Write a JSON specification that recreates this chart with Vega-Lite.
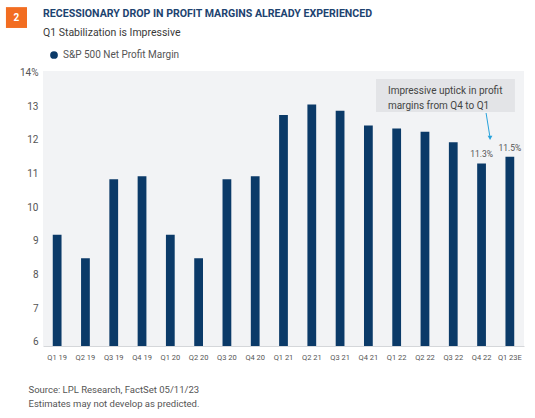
{
  "$schema": "https://vega.github.io/schema/vega-lite/v6.json",
  "width": 481,
  "height": 275,
  "autosize": {"type": "none"},
  "padding": {"left": 43, "top": 71, "right": 11, "bottom": 72},
  "background": "white",
  "config": {
    "view": {"fill": "#f2f3f5", "stroke": null},
    "font": "Roboto",
    "legend": {"orient": "none", "legendX": 6, "legendY": -21}
  },
  "title": {
    "text": "RECESSIONARY DROP IN PROFIT MARGINS ALREADY EXPERIENCED",
    "subtitle": "Q1 Stabilization is Impressive",
    "anchor": "start",
    "frame": "group",
    "font": "Roboto",
    "fontSize": 10.6,
    "fontWeight": "bold",
    "color": "#1d4370",
    "subtitleFont": "Roboto",
    "subtitleFontSize": 10.5,
    "subtitleColor": "#3a3a3a",
    "subtitlePadding": 8.5,
    "offset": -31
  },
  "data": {
    "values": [
      {"q": "Q1 19", "v": 9.18, "label": ""},
      {"q": "Q2 19", "v": 8.48, "label": ""},
      {"q": "Q3 19", "v": 10.83, "label": ""},
      {"q": "Q4 19", "v": 10.92, "label": ""},
      {"q": "Q1 20", "v": 9.18, "label": ""},
      {"q": "Q2 20", "v": 8.48, "label": ""},
      {"q": "Q3 20", "v": 10.83, "label": ""},
      {"q": "Q4 20", "v": 10.92, "label": ""},
      {"q": "Q1 21", "v": 12.74, "label": ""},
      {"q": "Q2 21", "v": 13.05, "label": ""},
      {"q": "Q3 21", "v": 12.87, "label": ""},
      {"q": "Q4 21", "v": 12.43, "label": ""},
      {"q": "Q1 22", "v": 12.34, "label": ""},
      {"q": "Q2 22", "v": 12.24, "label": ""},
      {"q": "Q3 22", "v": 11.93, "label": ""},
      {"q": "Q4 22", "v": 11.3, "label": "11.3%"},
      {"q": "Q1 23E", "v": 11.5, "label": "11.5%"}
    ]
  },
  "resolve": {"scale": {"x": "independent", "y": "independent"}},
  "layer": [
    {
      "layer": [
        {
          "mark": {"type": "bar"},
          "encoding": {
            "x": {
              "field": "q", "type": "nominal", "sort": null,
              "scale": {"paddingInner": 0.69, "paddingOuter": 0.345},
              "axis": {
                "labelAngle": 0, "ticks": false, "domainColor": "#d5d7da",
                "labelFontSize": 7.5, "labelColor": "#555555", "labelPadding": 7,
                "title": ["Source: LPL Research, FactSet  05/11/23", "Estimates may not develop as predicted."],
                "titleX": -15, "titleY": 38, "titleAlign": "left", "titleBaseline": "top",
                "titleFontWeight": "normal", "titleFontSize": 9.5, "titleColor": "#555555",
                "titleLineHeight": 14
              }
            },
            "y": {
              "field": "v", "type": "quantitative",
              "scale": {"domain": [5.87, 14.05], "nice": false, "zero": false},
              "axis": {
                "values": [6, 7, 8, 9, 10, 11, 12, 13, 14],
                "tickCount": 9,
                "labelExpr": "datum.value == 14 ? '14%' : datum.label",
                "labelOverlap": false,
                "labelSeparation": 0,
                "labelBound": false,
                "grid": false, "domain": false, "ticks": false,
                "labelPadding": 5, "labelFontSize": 10, "labelColor": "#555555",
                "title": null
              }
            },
            "y2": {"datum": 5.87},
            "color": {
              "datum": "S&P 500 Net Profit Margin",
              "scale": {"range": ["#0b3a68"]},
              "legend": {
                "title": null, "symbolType": "circle", "symbolSize": 60,
                "labelFontSize": 10, "labelColor": "#555555", "padding": 0,
                "symbolStrokeWidth": 0, "labelOffset": 4
              }
            }
          }
        },
        {
          "transform": [{"filter": "datum.label != ''"}],
          "mark": {"type": "text", "dy": -9, "fontSize": 8.5, "color": "#555555", "baseline": "middle"},
          "encoding": {
            "x": {"field": "q", "type": "nominal", "sort": null},
            "y": {"field": "v", "type": "quantitative"},
            "text": {"field": "label"}
          }
        }
      ]
    },
    {
      "data": {"values": [{}]},
      "mark": {"type": "rect", "color": "#e3e4e7"},
      "encoding": {
        "x": {"datum": 11.77, "type": "quantitative", "scale": {"domain": [0, 17], "nice": false, "zero": false}, "axis": null},
        "x2": {"datum": 16.68},
        "y": {"datum": 13.81, "type": "quantitative", "scale": {"domain": [5.87, 14.05], "nice": false, "zero": false}, "axis": null},
        "y2": {"datum": 12.83}
      }
    },
    {
      "data": {"values": [{}]},
      "mark": {"type": "text", "align": "left", "baseline": "middle", "fontSize": 10, "color": "#444444", "lineHeight": 14.4,
        "text": ["Impressive uptick in profit", "margins from Q4 to Q1"]},
      "encoding": {
        "x": {"datum": 12.19, "type": "quantitative", "scale": {"domain": [0, 17], "nice": false, "zero": false}, "axis": null},
        "y": {"datum": 13.45, "type": "quantitative", "scale": {"domain": [5.87, 14.05], "nice": false, "zero": false}, "axis": null}
      }
    },
    {
      "data": {"values": [{}]},
      "mark": {"type": "rule", "color": "#27a2dc", "strokeWidth": 1},
      "encoding": {
        "x": {"datum": 15.66, "type": "quantitative", "scale": {"domain": [0, 17], "nice": false, "zero": false}, "axis": null},
        "x2": {"datum": 15.79},
        "y": {"datum": 12.8, "type": "quantitative", "scale": {"domain": [5.87, 14.05], "nice": false, "zero": false}, "axis": null},
        "y2": {"datum": 12.12}
      }
    },
    {
      "data": {"values": [{}]},
      "mark": {"type": "point", "shape": "triangle-down", "filled": true, "size": 22, "color": "#27a2dc", "opacity": 1},
      "encoding": {
        "x": {"datum": 15.8, "type": "quantitative", "scale": {"domain": [0, 17], "nice": false, "zero": false}, "axis": null},
        "y": {"datum": 12.06, "type": "quantitative", "scale": {"domain": [5.87, 14.05], "nice": false, "zero": false}, "axis": null}
      }
    },
    {
      "data": {"values": [{}]},
      "mark": {"type": "rect", "color": "#f26d21", "clip": false},
      "encoding": {
        "x": {"datum": -1.31, "type": "quantitative", "scale": {"domain": [0, 17], "nice": false, "zero": false}, "axis": null},
        "x2": {"datum": -0.566},
        "y": {"datum": 15.95, "type": "quantitative", "scale": {"domain": [5.87, 14.05], "nice": false, "zero": false}, "axis": null},
        "y2": {"datum": 15.33}
      }
    },
    {
      "data": {"values": [{}]},
      "mark": {"type": "text", "text": "2", "color": "white", "fontWeight": "bold", "fontSize": 10, "baseline": "middle", "align": "center"},
      "encoding": {
        "x": {"datum": -0.937, "type": "quantitative", "scale": {"domain": [0, 17], "nice": false, "zero": false}, "axis": null},
        "y": {"datum": 15.64, "type": "quantitative", "scale": {"domain": [5.87, 14.05], "nice": false, "zero": false}, "axis": null}
      }
    }
  ]
}
